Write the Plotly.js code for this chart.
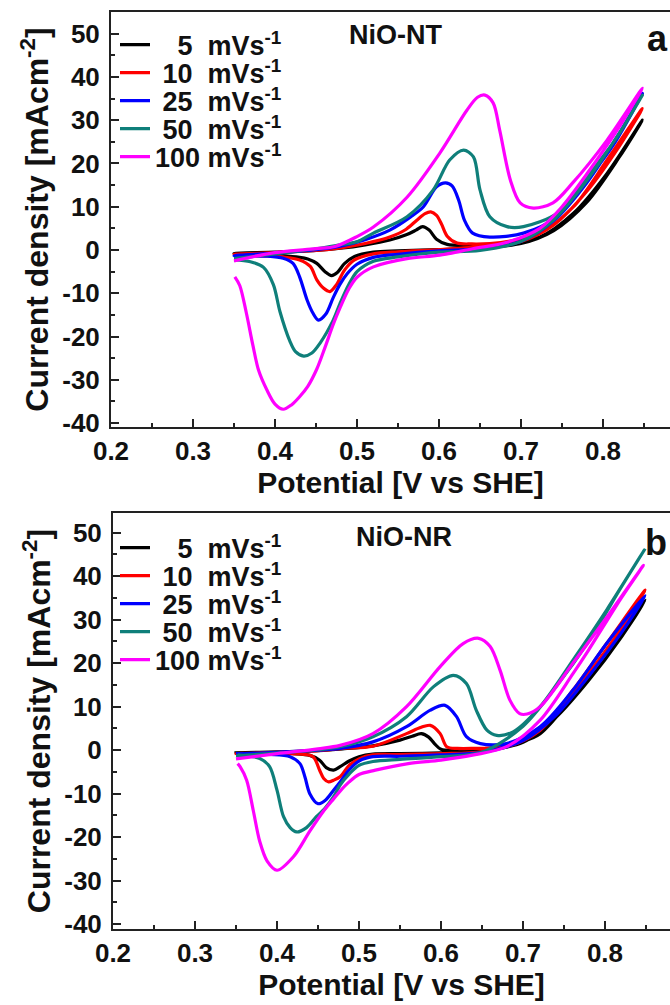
<!DOCTYPE html>
<html><head><meta charset="utf-8">
<script src="https://cdn.plot.ly/plotly-3.0.1.min.js"></script>
<style>html,body{margin:0;padding:0;overflow:hidden;background:#fff;width:670px;height:1005px}#plot{width:690px;height:1005px}</style>
</head><body><div id="plot"></div><script>
// ---------- data (potential V vs SHE, current density mA/cm2) ----------
const rates = ['5', '10', '25', '50', '100'];
const colors = ['#000000', '#ff0000', '#0000ff', '#0f7f7a', '#ff00ff'];

// NiO-NT (panel a)
const ntV5 = [0.35,0.40,0.45,0.48,0.51,0.54,0.56,0.572,0.580,0.588,0.597,0.61,0.64,0.68,0.723,0.764,0.805,0.848, 0.82,0.78,0.74,0.70,0.65,0.60,0.55,0.52,0.497,0.485,0.476,0.469,0.461,0.451,0.44,0.43,0.40,0.35];
const ntI5 = [-0.8,-0.5,-0.1,0.4,1.2,2.3,3.5,4.6,5.4,4.6,2.5,1.3,1.1,1.6,3.0,8.5,17.7,30.0, 21.5,11.0,4.5,1.5,0.5,0.1,-0.2,-0.5,-1.5,-3.1,-5.2,-5.9,-5.0,-3.1,-2.1,-1.7,-1.2,-0.8];
const ntV10 = [0.35,0.40,0.45,0.48,0.51,0.54,0.56,0.573,0.583,0.590,0.597,0.603,0.61,0.622,0.64,0.662,0.69,0.723,0.764,0.805,0.848, 0.82,0.78,0.74,0.70,0.65,0.60,0.55,0.52,0.497,0.485,0.475,0.467,0.459,0.451,0.443,0.43,0.41,0.38,0.35];
const ntI10 = [-1.0,-0.6,-0.1,0.5,1.5,3.0,4.8,6.9,8.4,8.8,8.0,6.0,3.2,1.6,1.4,1.5,2.2,3.9,10.0,20.8,32.7, 24.0,13.5,5.8,2.0,0.8,0.1,-0.4,-0.9,-2.3,-4.6,-8.0,-9.6,-8.8,-6.9,-3.8,-2.3,-1.6,-1.3,-1.0];
const ntV25 = [0.35,0.40,0.45,0.48,0.51,0.54,0.565,0.581,0.597,0.608,0.616,0.624,0.631,0.641,0.662,0.703,0.744,0.784,0.815,0.848, 0.82,0.78,0.74,0.70,0.65,0.60,0.55,0.52,0.50,0.488,0.479,0.471,0.462,0.453,0.446,0.439,0.43,0.422,0.41,0.39,0.35];
const ntI25 = [-1.3,-0.7,0.1,0.9,2.4,4.6,7.6,10.0,14.6,15.5,14.8,11.5,6.9,3.9,3.0,3.9,7.7,16.9,25.0,36.2, 27.0,15.5,6.8,2.0,0.3,-0.2,-1.0,-1.7,-3.3,-5.5,-8.0,-11.0,-14.8,-16.2,-14.5,-11.5,-6.2,-3.1,-1.9,-1.4,-1.3];
const ntV50 = [0.35,0.40,0.45,0.479,0.50,0.52,0.561,0.593,0.613,0.630,0.642,0.650,0.662,0.683,0.703,0.744,0.784,0.815,0.848, 0.82,0.78,0.74,0.70,0.65,0.60,0.55,0.52,0.50,0.49,0.479,0.471,0.455,0.445,0.435,0.425,0.418,0.406,0.398,0.386,0.37,0.35];
const ntI50 = [-2.0,-0.9,0.3,1.2,1.9,3.9,7.7,13.9,20.8,23.1,21.5,13.9,7.7,5.4,5.4,8.5,17.7,25.5,35.8, 27.0,16.0,7.0,2.0,-0.1,-0.5,-1.6,-2.6,-5.0,-8.0,-12.5,-16.2,-21.5,-23.8,-24.5,-23.5,-21.0,-14.2,-8.0,-4.0,-2.7,-2.3];
const ntV100 = [0.35,0.40,0.45,0.473,0.50,0.52,0.561,0.601,0.634,0.647,0.656,0.666,0.674,0.687,0.699,0.715,0.739,0.763,0.805,0.848, 0.82,0.78,0.75,0.723,0.683,0.641,0.601,0.561,0.52,0.50,0.49,0.479,0.471,0.461,0.451,0.44,0.43,0.42,0.41,0.40,0.39,0.38,0.373,0.365,0.357,0.351];
const ntI100 = [-2.5,-0.6,0.3,0.8,3.1,5.3,12.2,22.4,32.3,35.3,35.8,34.0,27.7,16.2,10.9,9.7,10.9,15.5,25.4,37.4, 28.5,17.5,10.0,5.0,1.8,0.3,-1.2,-2.0,-3.9,-6.3,-9.0,-13.5,-17.2,-22.5,-27.5,-31.5,-33.9,-35.8,-36.8,-35.6,-32.3,-27.8,-22.0,-14.5,-8.2,-6.2];

// NiO-NR (panel b)
const nrV5 = [0.35,0.40,0.45,0.48,0.517,0.55,0.565,0.576,0.585,0.592,0.60,0.62,0.66,0.70,0.721,0.761,0.802,0.849, 0.82,0.78,0.74,0.70,0.65,0.60,0.55,0.517,0.50,0.488,0.477,0.469,0.46,0.452,0.44,0.42,0.39,0.35];
const nrI5 = [-0.6,-0.4,-0.1,0.3,1.0,2.3,3.2,3.8,3.0,1.5,0.2,0.0,0.5,2.0,3.8,12.3,23.0,34.5, 26.0,16.0,7.5,1.8,-0.2,-0.6,-0.8,-0.9,-1.5,-2.5,-3.8,-4.6,-4.0,-2.3,-1.2,-0.8,-0.6,-0.6];
const nrV10 = [0.35,0.40,0.45,0.48,0.517,0.558,0.575,0.587,0.599,0.607,0.62,0.639,0.68,0.721,0.761,0.802,0.849, 0.82,0.78,0.74,0.70,0.65,0.60,0.55,0.517,0.50,0.488,0.477,0.469,0.463,0.457,0.452,0.444,0.43,0.40,0.35];
const nrI10 = [-0.8,-0.5,-0.1,0.4,0.9,3.8,5.2,5.7,3.8,0.8,0.4,0.4,0.8,4.6,13.8,24.5,36.8, 28.0,17.5,8.5,2.5,-0.3,-0.8,-1.0,-1.1,-2.0,-3.5,-6.1,-6.9,-7.3,-6.5,-4.6,-1.5,-0.9,-0.8,-0.8];
const nrV25 = [0.35,0.40,0.45,0.477,0.517,0.558,0.587,0.605,0.619,0.631,0.648,0.68,0.721,0.761,0.802,0.849, 0.82,0.78,0.74,0.70,0.65,0.60,0.55,0.517,0.50,0.488,0.477,0.469,0.459,0.45,0.44,0.434,0.428,0.416,0.39,0.35];
const nrI25 = [-0.9,-0.5,0.0,0.4,1.9,5.4,9.2,10.3,7.7,3.1,1.5,1.5,5.4,13.8,24.5,35.5, 27.0,17.0,8.0,2.2,-0.5,-1.1,-1.4,-1.5,-2.5,-4.5,-7.3,-9.2,-11.5,-12.3,-10.0,-6.1,-3.1,-1.5,-1.0,-0.8];
const nrV50 = [0.35,0.40,0.45,0.477,0.517,0.558,0.591,0.615,0.631,0.643,0.656,0.668,0.688,0.721,0.761,0.802,0.848, 0.82,0.78,0.74,0.70,0.65,0.60,0.55,0.517,0.50,0.488,0.477,0.469,0.458,0.448,0.436,0.424,0.416,0.408,0.40,0.391,0.379,0.352];
const nrI50 = [-1.3,-0.7,0.1,0.8,3.1,7.7,14.6,17.2,15.3,9.2,4.6,3.4,4.2,10.0,20.7,32.2,46.0, 37.5,25.0,14.5,5.5,-0.5,-1.5,-2.1,-2.6,-3.5,-5.5,-8.0,-10.7,-13.5,-15.3,-17.8,-18.8,-17.8,-15.3,-9.2,-3.8,-1.9,-1.1];
const nrV100 = [0.35,0.40,0.45,0.477,0.517,0.558,0.599,0.627,0.646,0.66,0.672,0.684,0.696,0.705,0.721,0.761,0.802,0.847, 0.82,0.78,0.761,0.721,0.68,0.64,0.60,0.56,0.52,0.50,0.488,0.477,0.469,0.456,0.44,0.42,0.40,0.388,0.379,0.371,0.363,0.355,0.352];
const nrI100 = [-2.0,-0.8,0.3,1.1,3.8,10.0,19.2,24.5,25.7,23.8,18.4,11.5,8.4,8.3,10.0,20.0,30.5,42.5, 35.0,23.0,17.6,6.9,0.8,-1.1,-2.3,-3.1,-4.6,-5.6,-7.3,-9.4,-11.2,-14.2,-18.6,-24.5,-27.6,-25.5,-21.0,-13.8,-6.9,-3.8,-3.1];

// ticks
const xTickVals = [0.2, 0.3, 0.4, 0.5, 0.6, 0.7, 0.8];
const xTickText = ['0.2', '0.3', '0.4', '0.5', '0.6', '0.7', '0.8'];
const xMinorVals = [0.25, 0.35, 0.45, 0.55, 0.65, 0.75, 0.85];
const yTickVals = [-40, -30, -20, -10, 0, 10, 20, 30, 40, 50];
const yTickText = ['-40', '-30', '-20', '-10', '0', '10', '20', '30', '40', '50'];
const yMinorVals = [-35, -25, -15, -5, 5, 15, 25, 35, 45];

const xLabel = 'Potential [V vs SHE]';
const yLabel = 'Current density [mAcm<sup>-2</sup>]';
const panelNames = ['NiO-NT', 'NiO-NR'];
const panelLetters = ['a', 'b'];

// ---------- build ----------
const FONT = 'Liberation Sans, Arial, Helvetica, sans-serif';
const W = 690, H = 1005, L = 111;            // figure geometry (px)
const px2x = function (px) { return (px - L) / (W - L); };
const px2y = function (py) { return 1 - py / H; };

const ntV = [ntV5, ntV10, ntV25, ntV50, ntV100], ntI = [ntI5, ntI10, ntI25, ntI50, ntI100];
const nrV = [nrV5, nrV10, nrV25, nrV50, nrV100], nrI = [nrI5, nrI10, nrI25, nrI50, nrI100];
const pad = ['\u00a0\u00a0\u00a0', '\u00a0', '\u00a0', '\u00a0', ''];
const gap = ['\u00a0\u00a0', '\u00a0\u00a0', '\u00a0\u00a0', '\u00a0\u00a0', ' '];
function legName(i) { return pad[i] + rates[i] + gap[i] + 'mVs<sup>-1</sup>'; }

const rowsA = [45, 73, 101, 129, 157];     // legend row centres, panel a (px)
const rowsB = [548, 576, 604, 632, 660];   // legend row centres, panel b (px)

const traces = [];
const layout = {
  width: W, height: H,
  margin: { l: L, r: 0, t: 0, b: 0 },
  paper_bgcolor: '#fff', plot_bgcolor: '#fff',
  showlegend: true
};
function legKey(n) { return n === 1 ? 'legend' : 'legend' + n; }
function leg(py) {
  return {
    x: px2x(115), y: px2y(py), xanchor: 'left', yanchor: 'middle',
    font: { family: FONT, size: 27, color: '#111', weight: 'bold' },
    bgcolor: 'rgba(0,0,0,0)', borderwidth: 0
  };
}
[[ntV, ntI, 'x', 'y', rowsA, 0], [nrV, nrI, 'x2', 'y2', rowsB, 5]].forEach(function (p) {
  rates.forEach(function (r, i) {
    const n = p[5] + i + 1;
    traces.push({
      type: 'scatter', mode: 'lines', x: p[0][i], y: p[1][i], xaxis: p[2], yaxis: p[3],
      name: legName(i), legend: legKey(n),
      line: { color: colors[i], width: 3.2, shape: 'spline', smoothing: 0.9 }
    });
    layout[legKey(n)] = leg(p[4][i]);
  });
});

const tickFont = { family: FONT, size: 26, color: '#111', weight: 'bold' };
function xAx(domain, range, anchor) {
  return {
    domain: domain, range: range, anchor: anchor,
    tickmode: 'array', tickvals: xTickVals, ticktext: xTickText,
    ticks: 'inside', ticklen: 8, tickwidth: 2, tickcolor: '#222',
    minor: { tickmode: 'array', tickvals: xMinorVals, ticks: 'inside', ticklen: 4, tickwidth: 2, tickcolor: '#222' },
    showline: true, linewidth: 2, linecolor: '#222', mirror: true,
    showgrid: false, zeroline: false, tickfont: tickFont, ticklabelstandoff: 0,
    title: { text: xLabel, font: { family: FONT, size: 30, color: '#111', weight: 'bold' }, standoff: 5 }
  };
}
function yAx(domain, range, anchor) {
  return {
    domain: domain, range: range, anchor: anchor,
    tickmode: 'array', tickvals: yTickVals, ticktext: yTickText,
    ticks: 'inside', ticklen: 8, tickwidth: 2, tickcolor: '#222',
    minor: { tickmode: 'array', tickvals: yMinorVals, ticks: 'inside', ticklen: 4, tickwidth: 2, tickcolor: '#222' },
    showline: true, linewidth: 2, linecolor: '#222', mirror: true,
    showgrid: false, zeroline: false, tickfont: tickFont, ticklabelstandoff: 4,
    title: { text: yLabel, font: { family: FONT, size: 32, color: '#111', weight: 'bold' }, standoff: 4 }
  };
}
function ann(text, pxX, pxY, size) {
  return { text: text, x: px2x(pxX), y: px2y(pxY), xref: 'paper', yref: 'paper', xanchor: 'center', yanchor: 'middle',
    showarrow: false, font: { family: FONT, size: size, color: '#111', weight: 'bold' } };
}
layout.xaxis = xAx([0, 1], [0.2, 0.9061], 'y');
layout.yaxis = yAx([px2y(427), px2y(12)], [-40.9, 55.0], 'x');
layout.xaxis2 = xAx([px2x(113), 1], [0.2, 0.9037], 'y2');
layout.yaxis2 = yAx([px2y(929), px2y(513)], [-41.1, 54.5], 'x2');
layout.annotations = [
  ann(panelNames[0], 395, 35, 27),
  ann(panelLetters[0], 657, 39, 36),
  ann(panelNames[1], 404, 537, 27),
  ann(panelLetters[1], 656, 542, 36)
];
Plotly.newPlot('plot', traces, layout, { staticPlot: true, displayModeBar: false });
</script></body></html>
